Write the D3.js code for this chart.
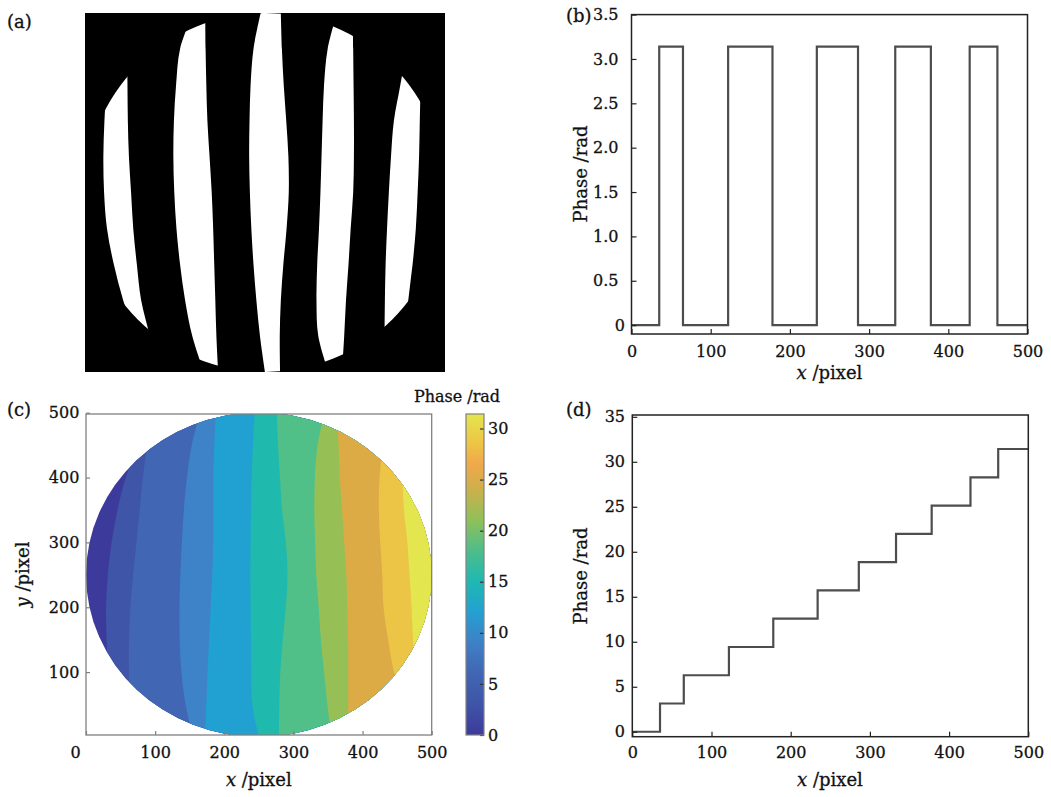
<!DOCTYPE html>
<html>
<head>
<meta charset="utf-8">
<script src="https://d3js.org/d3.v7.min.js"></script>
<style>
  body { margin: 0; background: #fff; }
  svg text { font-family: 'DejaVu Serif', serif; fill: #111; stroke: #111; stroke-width: 0.3px; }
</style>
</head>
<body>
<svg id="fig" width="1051" height="797"></svg>
<script>
const W = 1051, H = 797;
const FONT = 16;

// phase profile along one row: x where each step begins, phase on that step
const stepStart = [0, 35, 65, 122, 178, 234, 286, 333, 378, 427, 462];
const profileEnd = 500;
const wrappedPhase = [0, 3.14, 0, 3.14, 0, 3.14, 0, 3.14, 0, 3.14, 0];
const unwrappedPhase = [0, 3.14, 6.28, 9.42, 12.57, 15.71, 18.85, 21.99, 25.13, 28.27, 31.42];

// panel (a): x of each fringe edge, read at these image rows
const fringeRows = [0, 50, 100, 150, 200, 250, 300, 350, 400, 450, 500];
const fringeEdges = [
  [40, 35, 30, 27, 25.5, 26.5, 30.5, 40, 53, 70, 90],
  [58, 58.5, 59, 59.5, 61, 64, 67, 72, 78, 90, 100],
  [150, 132, 126.5, 123.5, 122.7, 124, 127, 132, 139, 149, 165],
  [167, 167.5, 168.5, 170, 173, 176, 178, 179.5, 181, 182.5, 185],
  [244, 234, 230, 228.5, 228, 229, 231, 234, 238, 243, 250],
  [272, 273.5, 276, 279.5, 282.5, 283, 280, 275.5, 272, 270.5, 271],
  [350, 337, 332, 330, 328.5, 327, 325, 322.5, 321.5, 324, 338],
  [372, 372.5, 373, 373.5, 373.5, 372.5, 369, 366, 362.5, 360, 357],
  [450, 446, 438, 429, 425, 422, 419.5, 417.5, 416.5, 416, 416],
  [466, 466, 466, 465, 464, 462, 459.5, 455, 449, 445, 442]
];

// panel (c): x of each contour band edge, read at these y values
const contourY = [0, 50, 100, 150, 200, 250, 300, 350, 400, 450, 500];
const contourEdges = [
  [40, 36, 32, 29.8, 29, 31.5, 37, 45.5, 57.5, 75, 95],
  [64, 62.5, 62, 62.2, 64.3, 68.2, 73, 77.6, 82.3, 89, 100],
  [155, 144, 138, 135.5, 135.2, 136.5, 138.7, 141.5, 146, 153, 165],
  [172, 174, 175.8, 178, 180.3, 182.5, 184, 184, 184, 185.5, 188],
  [250, 240.5, 239, 238.5, 238, 237.7, 238, 238.7, 239.5, 241.5, 244],
  [279, 279.5, 281, 284.5, 289, 291.4, 289, 283.5, 280.5, 277.7, 276],
  [355, 349, 344.3, 339.7, 336.5, 333, 331.4, 330.2, 331, 335, 345],
  [379, 379.3, 379.3, 379.2, 378.1, 376.6, 373.5, 370.3, 367, 365.3, 363],
  [470, 460, 445.5, 437, 430.3, 428.5, 425.5, 423.5, 424.5, 430, 440],
  [480, 478, 476, 473, 470.8, 467.8, 464.8, 459.8, 457.3, 455, 455]
];
const bandColors = ['#3c3b9c', '#3f55a8', '#4167b4', '#3e83c8', '#21a1d1', '#1fb9ae',
                    '#50bf88', '#96c055', '#dcab46', '#ecc446', '#e3e64e'];

// colour bar
const cbarValues = [0, 3, 6, 9, 12, 15, 18, 21, 24, 26.5, 28.5, 31.42];
const cbarColors = ['#3d3a9b', '#3f54a8', '#4166b3', '#3e80c6', '#24a0d2', '#1fb8b2',
                    '#4dbd8b', '#8fc05a', '#ccb04a', '#f0a84a', '#eec445', '#e3e64d'];
const cbarTicks = [0, 5, 10, 15, 20, 25, 30];

const xTicks = [0, 100, 200, 300, 400, 500];
const phaseTicksB = [0, 0.5, 1, 1.5, 2, 2.5, 3, 3.5];
const phaseTicksD = [0, 5, 10, 15, 20, 25, 30, 35];
const yTicksC = [100, 200, 300, 400, 500];

const svg = d3.select('#fig');
const defs = svg.append('defs');
svg.append('rect').attr('width', W).attr('height', H).attr('fill', '#fff');

function panelLabel(txt, x, y) {
  svg.append('text').attr('x', x).attr('y', y).attr('font-size', 18).text(txt);
}

function xTitle(cx, y) {
  const t = svg.append('text').attr('x', cx).attr('y', y)
    .attr('text-anchor', 'middle').attr('font-size', 18);
  t.append('tspan').attr('font-style', 'italic').text('x');
  t.append('tspan').text(' /pixel');
  return t;
}

function yTitle(x, cy, italicPart, rest) {
  const t = svg.append('text')
    .attr('transform', `translate(${x},${cy}) rotate(-90)`)
    .attr('text-anchor', 'middle').attr('font-size', 18);
  if (italicPart) t.append('tspan').attr('font-style', 'italic').text(italicPart);
  t.append('tspan').text(rest);
  return t;
}

function styleAxis(g, color) {
  g.select('.domain').remove();
  g.selectAll('.tick line').attr('stroke', color).attr('stroke-width', 1.2);
  g.selectAll('.tick text').attr('font-size', FONT).attr('fill', '#111')
    .style('font-family', "'DejaVu Serif', serif");
}

function frame(x0, y0, x1, y1, color, w) {
  svg.append('rect').attr('x', x0).attr('y', y0)
    .attr('width', x1 - x0).attr('height', y1 - y0)
    .attr('fill', 'none').attr('stroke', color).attr('stroke-width', w);
}

// ---------- (a) binary fringe pattern ----------
{
  const x = d3.scaleLinear().domain([0, 500]).range([85, 445]);
  const y = d3.scaleLinear().domain([0, 500]).range([13, 372]);
  svg.append('rect').attr('x', 85).attr('y', 13).attr('width', 360).attr('height', 359)
    .attr('fill', '#000');
  defs.append('clipPath').attr('id', 'discA').append('ellipse')
    .attr('cx', x(250)).attr('cy', y(250))
    .attr('rx', x(500) - x(250)).attr('ry', y(500) - y(250));
  const stripe = d3.area().curve(d3.curveCatmullRom)
    .y(d => y(d.row)).x0(d => x(d.l)).x1(d => x(d.r));
  const g = svg.append('g').attr('clip-path', 'url(#discA)');
  for (let j = 0; j < fringeEdges.length; j += 2) {
    const data = fringeRows.map((r, i) => ({row: r, l: fringeEdges[j][i], r: fringeEdges[j + 1][i]}));
    g.append('path').attr('d', stripe(data)).attr('fill', '#fff');
  }
  panelLabel('(a)', 7, 28);
}

// ---------- (b) wrapped phase profile ----------
{
  const x = d3.scaleLinear().domain([0, 500]).range([631.5, 1027.5]);
  const y = d3.scaleLinear().domain([-0.1, 3.5]).range([334, 14.6]);
  const pts = stepStart.map((s, i) => [s, wrappedPhase[i]]);
  pts.push([profileEnd, wrappedPhase[wrappedPhase.length - 1]]);
  svg.append('path')
    .attr('d', d3.line().curve(d3.curveStepAfter).x(d => x(d[0])).y(d => y(d[1]))(pts))
    .attr('fill', 'none').attr('stroke', '#4d4d4d').attr('stroke-width', 2.2);

  const gx = svg.append('g').attr('transform', 'translate(0,334)')
    .call(d3.axisBottom(x).tickValues(xTicks).tickSize(-5).tickPadding(11.5));
  styleAxis(gx, '#222');
  const gy = svg.append('g').attr('transform', 'translate(631.5,0)')
    .call(d3.axisLeft(y).tickValues(phaseTicksB).tickSize(-5).tickPadding(13)
      .tickFormat(d => d === 0 ? '0' : d3.format('.1f')(d)));
  styleAxis(gy, '#222');
  gy.selectAll('.tick text').filter(d => d === 0).attr('dx', 6.5);
  frame(631.5, 14.6, 1027.5, 334, '#222', 1.5);

  xTitle(829.5, 379);
  yTitle(587, 174, null, 'Phase /rad');
  panelLabel('(b)', 566, 22);
}

// ---------- (c) unwrapped phase map ----------
{
  const x = d3.scaleLinear().domain([0, 500]).range([86, 431.7]);
  const y = d3.scaleLinear().domain([3, 498]).range([735, 414]);
  defs.append('clipPath').attr('id', 'boxC').append('rect')
    .attr('x', 86).attr('y', 414).attr('width', 431.7 - 86).attr('height', 735 - 414);
  defs.append('clipPath').attr('id', 'discC').append('ellipse')
    .attr('cx', x(250)).attr('cy', y(250))
    .attr('rx', x(500) - x(250)).attr('ry', y(0) - y(250));
  const band = d3.area().curve(d3.curveCatmullRom)
    .y(d => y(d.y)).x0(d => x(d.l)).x1(d => x(d.r));
  const g = svg.append('g').attr('clip-path', 'url(#boxC)')
    .append('g').attr('clip-path', 'url(#discC)');
  bandColors.forEach((c, k) => {
    const data = contourY.map((v, i) => ({
      y: v,
      l: k === 0 ? -40 : contourEdges[k - 1][i],
      r: 540
    }));
    g.append('path').attr('d', band(data)).attr('fill', c);
  });

  const gx = svg.append('g').attr('transform', 'translate(0,735)')
    .call(d3.axisBottom(x).tickValues(xTicks).tickSize(-4).tickPadding(11.5));
  styleAxis(gx, '#808080');
  gx.selectAll('.tick text').filter(d => d === 0).attr('dx', -11);
  const gy = svg.append('g').attr('transform', 'translate(86,0)')
    .call(d3.axisLeft(y).tickValues(yTicksC).tickSize(-4).tickPadding(6.7));
  styleAxis(gy, '#808080');
  frame(86, 414, 431.7, 735, '#808080', 1.3);

  xTitle(258.8, 786);
  yTitle(29, 574.5, 'y', ' /pixel');
  panelLabel('(c)', 7, 416);

  // colour bar
  const cb = d3.scaleLinear().domain([0, 31.42]).range([735, 414]);
  const grad = defs.append('linearGradient').attr('id', 'cbarGrad')
    .attr('x1', 0).attr('y1', 1).attr('x2', 0).attr('y2', 0);
  cbarValues.forEach((v, i) => {
    grad.append('stop').attr('offset', v / 31.42).attr('stop-color', cbarColors[i]);
  });
  svg.append('rect').attr('x', 466).attr('y', 414).attr('width', 18).attr('height', 321)
    .attr('fill', 'url(#cbarGrad)');
  const gc = svg.append('g').attr('transform', 'translate(484,0)')
    .call(d3.axisRight(cb).tickValues(cbarTicks).tickSize(-4).tickPadding(4));
  styleAxis(gc, '#333');
  frame(466, 414, 484, 735, '#808080', 1.2);
  svg.append('text').attr('x', 457).attr('y', 402).attr('text-anchor', 'middle')
    .attr('font-size', 16).text('Phase /rad');
}

// ---------- (d) unwrapped phase profile ----------
{
  const x = d3.scaleLinear().domain([0, 500]).range([632.3, 1028.3]);
  const y = d3.scaleLinear().domain([-0.55, 35.2]).range([736.7, 415]);
  const pts = stepStart.map((s, i) => [s, unwrappedPhase[i]]);
  pts.push([profileEnd, unwrappedPhase[unwrappedPhase.length - 1]]);
  svg.append('path')
    .attr('d', d3.line().curve(d3.curveStepAfter).x(d => x(d[0])).y(d => y(d[1]))(pts))
    .attr('fill', 'none').attr('stroke', '#4d4d4d').attr('stroke-width', 2.2);

  const gx = svg.append('g').attr('transform', 'translate(0,736.7)')
    .call(d3.axisBottom(x).tickValues(xTicks).tickSize(-5).tickPadding(10));
  styleAxis(gx, '#222');
  const gy = svg.append('g').attr('transform', 'translate(632.3,0)')
    .call(d3.axisLeft(y).tickValues(phaseTicksD).tickSize(-5).tickPadding(7.3));
  styleAxis(gy, '#222');
  frame(632.3, 415, 1028.3, 736.7, '#222', 1.5);

  xTitle(830, 786);
  yTitle(587, 576, null, 'Phase /rad');
  panelLabel('(d)', 566, 416);
}
</script>
</body>
</html>
